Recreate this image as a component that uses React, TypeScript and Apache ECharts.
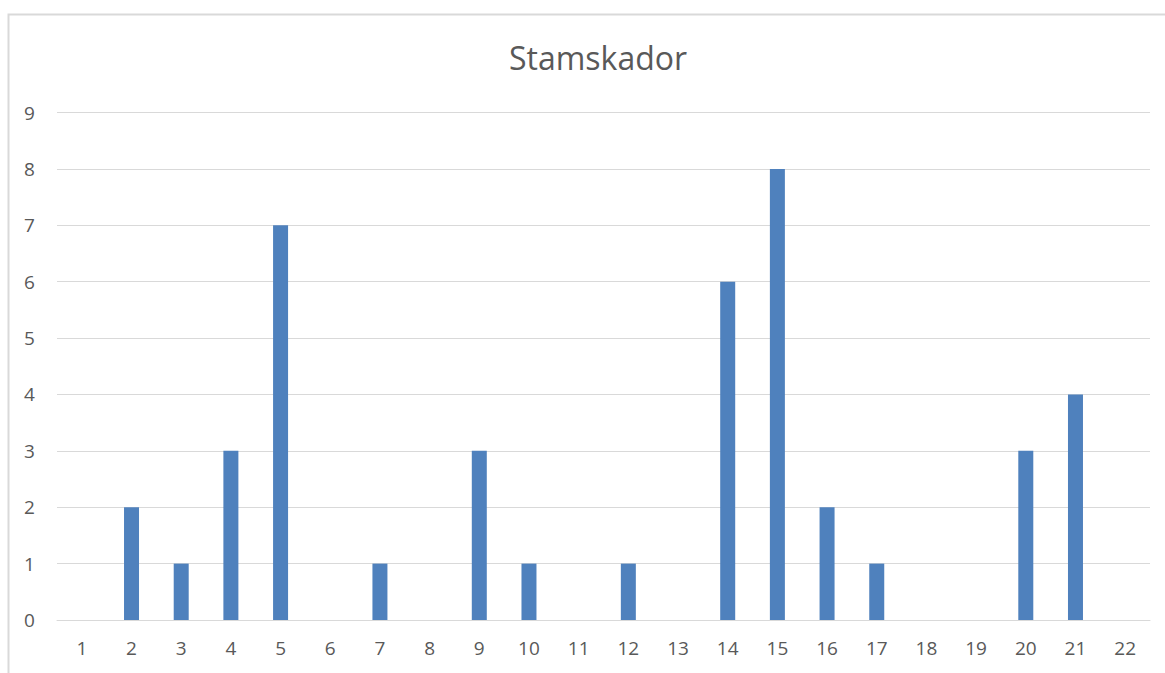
import React, { useEffect, useRef } from "react";
import * as echarts from "echarts";

const categories = ["1","2","3","4","5","6","7","8","9","10","11","12","13","14","15","16","17","18","19","20","21","22"];
const values = [0, 2, 1, 3, 7, 0, 1, 0, 3, 1, 0, 1, 0, 6, 8, 2, 1, 0, 0, 3, 4, 0];
const titleText = "Stamskador";

export default function App() {
  const ref = useRef<HTMLDivElement>(null);
  useEffect(() => {
    if (!ref.current) return;
    const chart = echarts.init(ref.current, null, { renderer: "svg" });
    chart.setOption({
      animation: false,
      title: {
        text: titleText,
        left: 593,
        top: 36,
        textAlign: "center",
        textStyle: { fontFamily: "Open Sans", fontSize: 32, fontWeight: "normal", color: "#595959" },
      },
      graphic: [
        {
          type: "polyline",
          shape: { points: [[8.5, 700], [8.5, 14.5], [1200, 14.5]] },
          style: { stroke: "#d9d9d9", lineWidth: 2, fill: null },
          silent: true,
        },
      ],
      grid: { left: 57, right: 15, top: 112.5, bottom: 53, containLabel: false },
      xAxis: {
        type: "category",
        data: categories,
        axisTick: { show: false },
        axisLine: { show: true, lineStyle: { color: "#d9d9d9", width: 1 } },
        axisLabel: { color: "#595959", fontFamily: "Open Sans", fontSize: 19, margin: 18 },
      },
      yAxis: {
        type: "value",
        min: 0,
        max: 9,
        interval: 1,
        axisLine: { show: false },
        axisTick: { show: false },
        splitLine: { lineStyle: { color: "#d9d9d9", width: 1 } },
        axisLabel: { color: "#595959", fontFamily: "Open Sans", fontSize: 19, margin: 33, align: "left" as const },
      },
      series: [
        {
          type: "bar",
          data: values,
          barWidth: 15,
          itemStyle: { color: "#4f81bd" },
        },
      ],
    });
    return () => chart.dispose();
  }, []);
  return <div ref={ref} style={{ position: "absolute", left: 0, top: 0, width: 1165, height: 673 }} />;
}
